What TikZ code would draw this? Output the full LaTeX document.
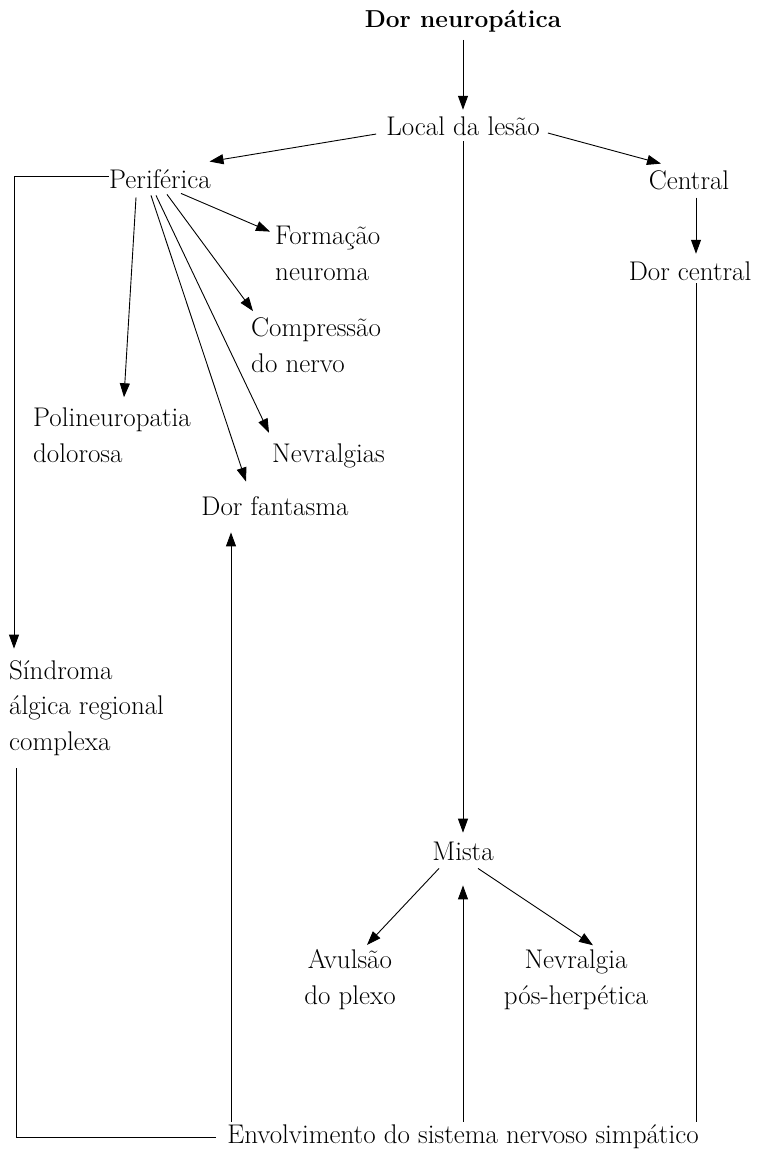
\documentclass[tikz,border=0pt]{standalone}
\usepackage{tikz}
\usetikzlibrary{arrows.meta}

\begin{document}
\begin{tikzpicture}[
  x=1pt, y=-1pt,
  font=\fontsize{27}{35.5}\selectfont,
  lbl/.style={inner sep=0pt, anchor=base},
  lblw/.style={inner sep=0pt, anchor=base west, align=left},
  lblc/.style={inner sep=0pt, anchor=base, align=center},
  arr/.style={-{Triangle[length=14pt, width=10pt]}, line width=0.9pt},
  ln/.style={line width=0.9pt}
]
\useasboundingbox (0,0) rectangle (761,1150);

% top
\node[lbl, font=\fontsize{24.5}{30}\selectfont\bfseries] (title) at (463,28) {Dor neuropática};
\node[lbl] (local) at (463,136) {Local da lesão};

% level of the lesion
\node[lbl] (per) at (160,189) {Periférica};
\node[lbl] (cen) at (689,190) {Central};
\node[lbl] (dcen) at (690,280) {Dor central};

% peripheral types (base = last line)
\node[lblw] (form) at (275,280) {Formação\\neuroma};
\node[lblw] (comp) at (251,372) {Compressão\\do nervo};
\node[lblw] (poli) at (33,462) {Polineuropatia\\dolorosa};
\node[lblw] (nevr) at (272,462) {Nevralgias};
\node[lbl] (fant) at (275,515) {Dor fantasma};
\node[lblw] (sind) at (9,750) {Síndroma\\álgica regional\\complexa};

% mixed
\node[lbl] (mista) at (463,860) {Mista};
\node[lblc] (avul) at (350,1004) {Avulsão\\do plexo};
\node[lblc] (herp) at (576,1004) {Nevralgia\\pós-herpética};

% sympathetic system
\node[lbl] (env) at (463,1143) {Envolvimento do sistema nervoso simpático};
\coordinate (etop) at ([shift={(0,-2.3)}]env.north);

\draw[arr] ([shift={(0,7)}]title.south) -- ([shift={(0,-7.3)}]local.north);
\draw[arr] ([shift={(-10,7.3)}]local.west) -- ([shift={(-1.5,-8.3)}]per.north east);
\draw[arr] ([shift={(8,6.3)}]local.east) -- ([shift={(-28,-7.3)}]cen.north);
\draw[arr] ([shift={(0,5)}]local.south) -- ([shift={(0,-8.7)}]mista.north);

% from Periferica
\draw[arr] ([shift={(21,4)}]per.south) -- ([shift={(-5,5.7)}]form.north west);
\draw[arr] ([shift={(7,5)}]per.south) -- ([shift={(2,-6.3)}]comp.north west);
\draw[arr] ([shift={(-4,6)}]per.south) -- ([shift={(-3,-10.3)}]nevr.north west);
\draw[arr] ([shift={(-9,6)}]per.south) -- ([shift={(-29,-14.3)}]fant.north);
\draw[arr] ([shift={(-24,8)}]per.south) -- ([shift={(91,-10.3)}]poli.north west);
\draw[arr] ([shift={(-0.5,-2.7)}]per.west) -| ([shift={(5,-11.3)}]sind.north west);

% central
\draw[arr] ([shift={(7,7)}]cen.south) -- ([shift={(6,-7.3)}]dcen.north);
\draw[ln] ([shift={(6,3)}]dcen.south) coordinate (d0) -- (d0 |- etop);

% mista
\draw[arr] ([shift={(-24,8)}]mista.south) -- ([shift={(17,-4.3)}]avul.north);
\draw[arr] ([shift={(15,8)}]mista.south) -- ([shift={(17,-4.3)}]herp.north);

% back from Envolvimento
\coordinate (f0) at ([shift={(-44,17)}]fant.south);
\draw[arr] (f0 |- etop) -- (f0);
\coordinate (m0) at ([shift={(0,25)}]mista.south);
\draw[arr] (m0 |- etop) -- (m0);
\draw[ln] ([shift={(-11,0.7)}]env.west) -| ([shift={(7,12.8)}]sind.south west);

\end{tikzpicture}
\end{document}
